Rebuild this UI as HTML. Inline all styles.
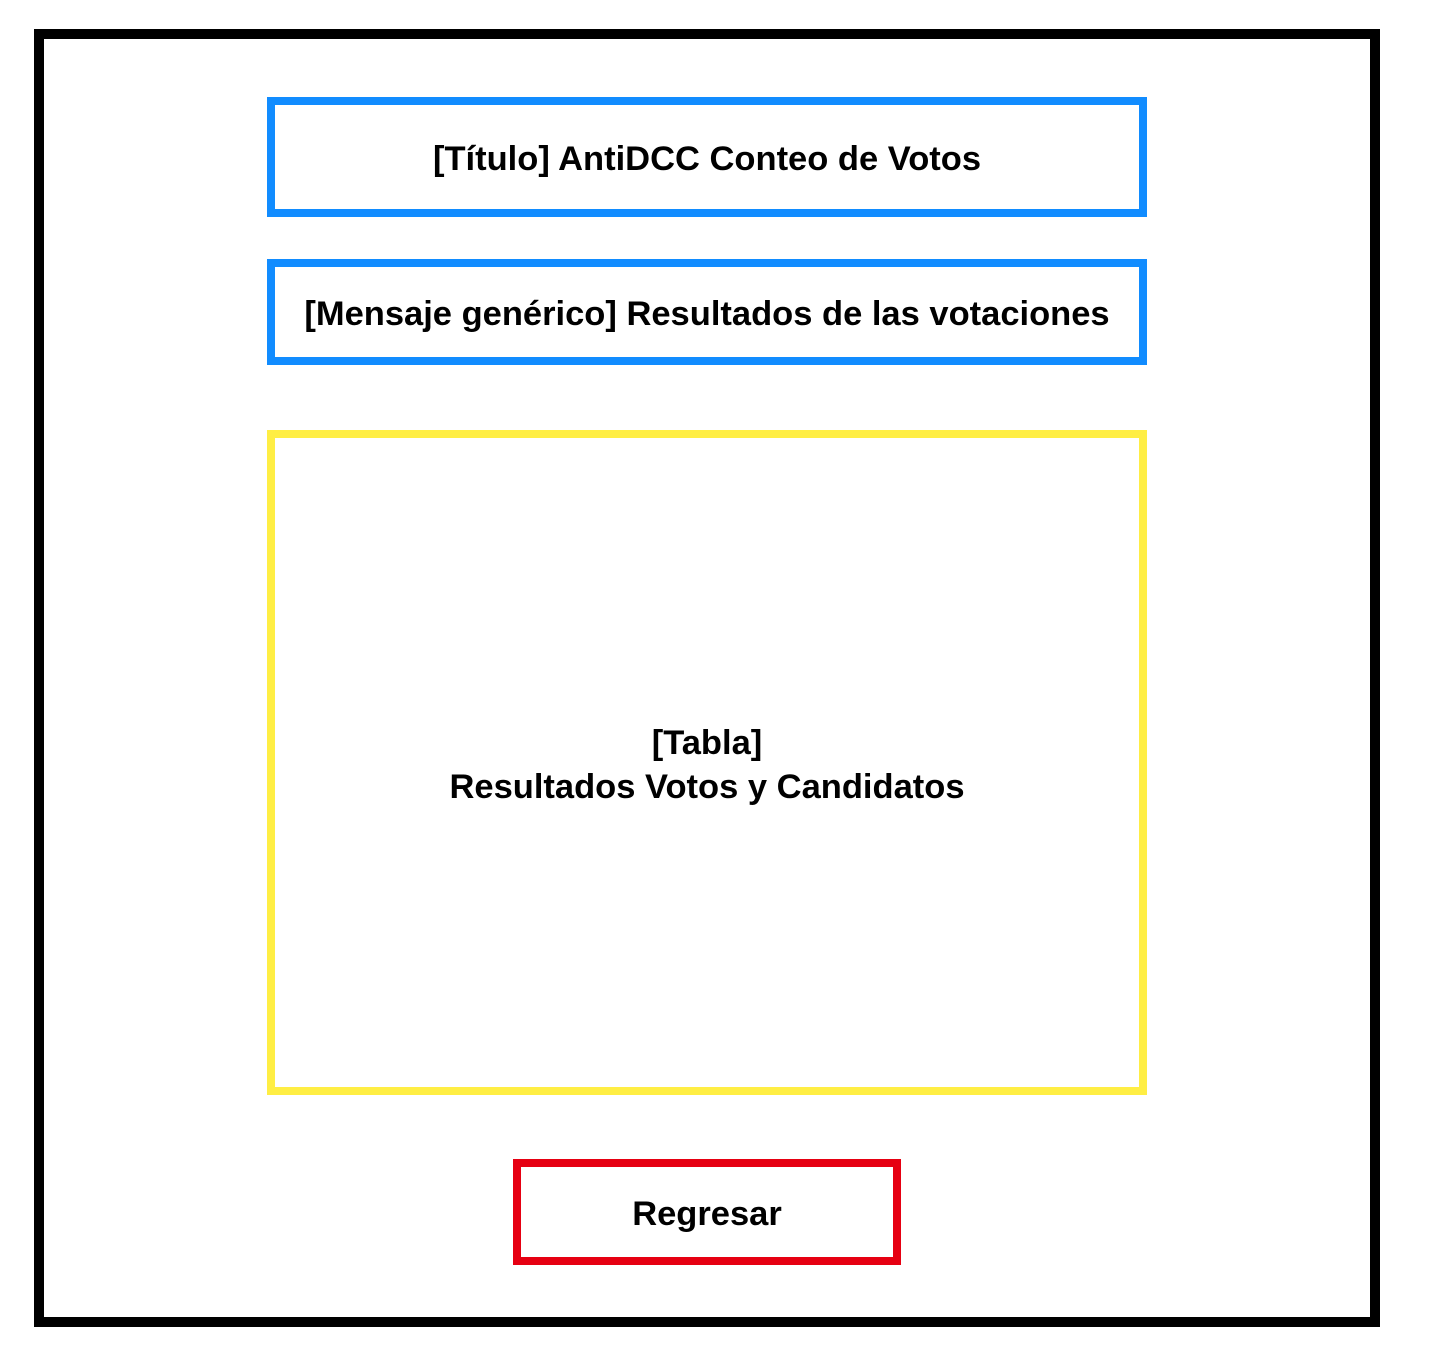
<!DOCTYPE html>
<html><head><meta charset="utf-8"><style>
html,body{margin:0;padding:0;background:#fff;width:1434px;height:1368px;overflow:hidden}
.b{position:absolute;box-sizing:border-box;display:flex;align-items:center;justify-content:center;text-align:center;font-family:"Liberation Sans",Arial,sans-serif;font-weight:bold;font-size:34.5px;color:#000;line-height:1.27;padding-top:6px}
</style></head><body>
<div class="b" style="left:34px;top:29px;width:1346px;height:1298px;border:10px solid #000"></div>
<div class="b" style="left:267px;top:97px;width:880px;height:120px;border:8px solid #118cff">[Título] AntiDCC Conteo de Votos</div>
<div class="b" style="left:267px;top:259px;width:880px;height:106px;border:8px solid #118cff">[Mensaje genérico] Resultados de las votaciones</div>
<div class="b" style="left:267px;top:430px;width:880px;height:665px;border:8px solid #ffee44">[Tabla]<br>Resultados Votos y Candidatos</div>
<div class="b" style="left:513px;top:1159px;width:388px;height:106px;border:8px solid #e60012">Regresar</div>
</body></html>
